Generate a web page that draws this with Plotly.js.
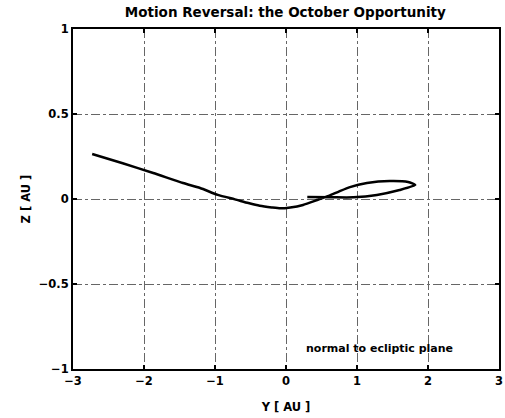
<!DOCTYPE html>
<html>
<head>
<meta charset="utf-8">
<script src="https://cdn.plot.ly/plotly-3.0.1.min.js"></script>
<style>html,body{margin:0;padding:0;background:#fff;}#chart{width:505px;height:418px;}</style>
</head>
<body>
<div id="chart"></div>
<script>
// Trajectory projected onto the Y-Z plane (AU)
const yAU = [-2.73, -2.3, -1.87, -1.45, -1.21, -0.96, -0.72, -0.53, -0.37, -0.2, -0.08, 0.06, 0.24, 0.44, 0.6, 0.75, 0.9, 1.14, 1.46, 1.72, 1.82, 1.6, 1.28, 0.95, 0.66, 0.3];
const zAU = [0.265, 0.21, 0.153, 0.094, 0.065, 0.024, -0.002, -0.024, -0.04, -0.05, -0.055, -0.05, -0.035, -0.006, 0.018, 0.045, 0.07, 0.094, 0.106, 0.1, 0.082, 0.053, 0.024, 0.01, 0.01, 0.012];

const xTickVals = [-3, -2, -1, 0, 1, 2, 3];
const xTickText = ['\u22123', '\u22122', '\u22121', '0', '1', '2', '3'];
const yTickVals = [-1, -0.5, 0, 0.5, 1];
const yTickText = ['\u22121', '\u22120.5', '0', '0.5', '1'];

const titleText = 'Motion Reversal: the October Opportunity';
const xTitle = 'Y [ AU ]';
const yTitle = 'Z [ AU ]';
const noteText = 'normal to ecliptic plane';

const font = {family: 'DejaVu Sans', color: '#000'};

const trace = {
  x: yAU, y: zAU, type: 'scatter', mode: 'lines',
  line: {color: '#000', width: 2.5, shape: 'spline', smoothing: 0.6},
  hoverinfo: 'skip', showlegend: false
};

const axisCommon = {
  showline: true, linecolor: '#000', linewidth: 2, mirror: 'ticks',
  ticks: 'inside', ticklen: 4, tickwidth: 1.5, tickcolor: '#000',
  showgrid: true, gridcolor: '#666', griddash: 'dashdot', gridwidth: 1,
  zeroline: false,
  tickfont: {family: 'DejaVu Sans', size: 11.5, color: '#000', weight: 'bold'}
};

const layout = {
  width: 505, height: 418,
  margin: {l: 73, r: 6, t: 29, b: 49},
  paper_bgcolor: '#fff', plot_bgcolor: '#fff',
  title: {text: titleText, x: 0.565, xanchor: 'center', y: 0.982, yanchor: 'top',
          font: {family: 'DejaVu Sans', size: 13.5, color: '#000', weight: 'bold'}},
  xaxis: Object.assign({}, axisCommon, {
    range: [-3, 3], tickvals: xTickVals, ticktext: xTickText,
    title: {text: xTitle, standoff: 16, font: {family: 'DejaVu Sans', size: 11.5, color: '#000', weight: 'bold'}}
  }),
  yaxis: Object.assign({}, axisCommon, {
    range: [-1, 1], tickvals: yTickVals, ticktext: yTickText,
    title: {text: yTitle, standoff: 6, font: {family: 'DejaVu Sans', size: 11.5, color: '#000', weight: 'bold'}}
  }),
  annotations: [{
    x: 2.38, y: -0.88, xref: 'x', yref: 'y', xanchor: 'right', yanchor: 'middle',
    text: noteText, showarrow: false,
    font: {family: 'DejaVu Sans', size: 11, color: '#000', weight: 'bold'}
  }],
  font: font
};

Plotly.newPlot('chart', [trace], layout, {staticPlot: true, displayModeBar: false});
</script>
</body>
</html>
